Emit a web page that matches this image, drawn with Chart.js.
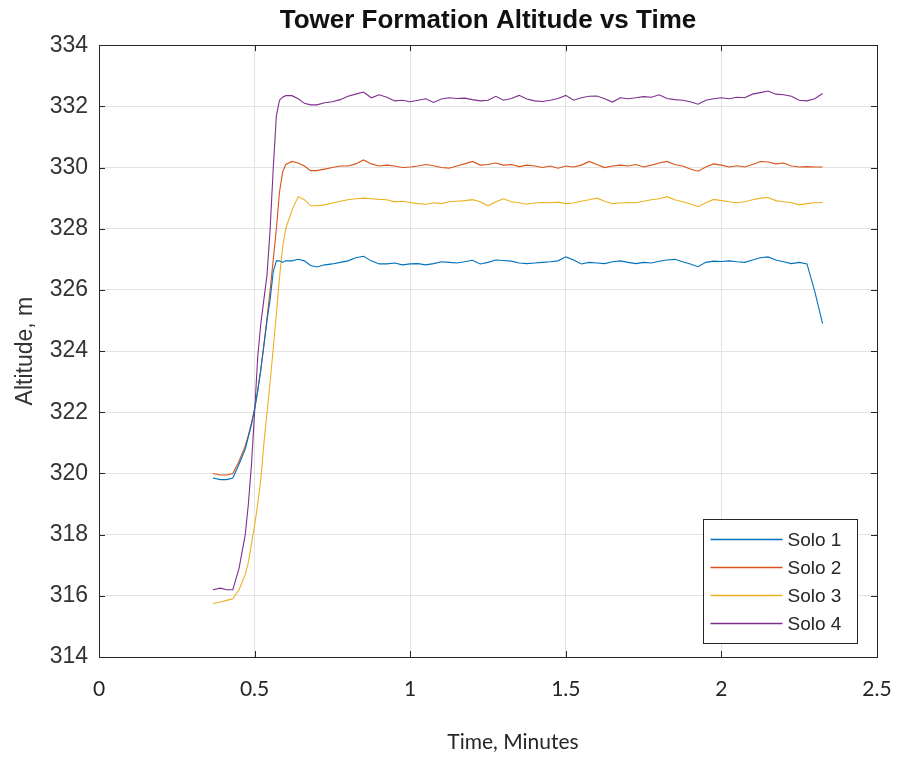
<!DOCTYPE html>
<html>
<head>
<meta charset="utf-8">
<title>Tower Formation Altitude vs Time</title>
<script src="https://cdn.jsdelivr.net/npm/chart.js@4.4.0/dist/chart.umd.min.js"></script>
<style>
  html, body { margin: 0; padding: 0; background: #fff; }
</style>
</head>
<body>
<canvas id="myChart" width="904" height="757"></canvas>
<script>
'use strict';

// time axis (minutes), shared by all four drones
const time = [
  0.366, 0.39, 0.41, 0.43, 0.45, 0.47, 0.48, 0.49, 0.50, 0.51, 0.52, 0.53,
  0.54, 0.55, 0.56, 0.57, 0.58, 0.59, 0.60, 0.62, 0.64, 0.66, 0.68, 0.70,
  0.725, 0.75, 0.775, 0.8, 0.825, 0.85, 0.875, 0.9, 0.925, 0.95,
  0.975, 1.0, 1.025, 1.05, 1.075, 1.1, 1.125, 1.15, 1.175, 1.2,
  1.225, 1.25, 1.275, 1.3, 1.325, 1.35, 1.375, 1.4, 1.425, 1.45,
  1.475, 1.5, 1.525, 1.55, 1.575, 1.6, 1.625, 1.65, 1.675, 1.7,
  1.725, 1.75, 1.775, 1.8, 1.825, 1.85, 1.875, 1.9, 1.925, 1.95,
  1.975, 2.0, 2.025, 2.05, 2.075, 2.1, 2.125, 2.15, 2.175, 2.2,
  2.225, 2.25, 2.275, 2.3, 2.325
];

const solo1 = [
  319.85, 319.8, 319.8, 319.85, 320.3, 320.8, 321.2, 321.6, 322.1, 322.7, 323.4, 324.2,
  325.0, 325.7, 326.6, 326.95, 326.95, 326.9, 326.95, 326.95, 327.0, 326.95, 326.8, 326.75,
  326.82, 326.85, 326.9, 326.95, 327.05, 327.1, 326.95, 326.85, 326.85, 326.88,
  326.82, 326.85, 326.86, 326.82, 326.86, 326.92, 326.9, 326.88, 326.92, 326.97,
  326.85, 326.9, 326.98, 326.96, 326.94, 326.88, 326.86, 326.88, 326.9, 326.92,
  326.95, 327.08, 326.98, 326.85, 326.9, 326.88, 326.86, 326.92, 326.95, 326.9,
  326.86, 326.9, 326.88, 326.94, 326.98, 327.0, 326.92, 326.85, 326.76, 326.9,
  326.94, 326.93, 326.95, 326.92, 326.9, 326.98, 327.05, 327.08, 326.98, 326.92,
  326.86, 326.9, 326.85, 325.95, 324.9
];

const solo2 = [
  320.0, 319.95, 319.95, 320.0, 320.4, 320.9, 321.25, 321.65, 322.1, 322.7, 323.4, 324.2,
  325.1, 326.0, 327.0, 328.0, 329.2, 329.85, 330.1, 330.2, 330.15, 330.05, 329.9, 329.9,
  329.95, 330.0, 330.05, 330.05, 330.12, 330.25, 330.12, 330.05, 330.08, 330.05,
  330.0, 330.02, 330.05, 330.1, 330.06, 330.0, 329.98, 330.05, 330.12, 330.2,
  330.08, 330.1, 330.15, 330.08, 330.1, 330.03, 330.08, 330.05, 330.0, 330.05,
  329.98, 330.05, 330.02, 330.08, 330.2, 330.1, 330.0, 330.05, 330.08, 330.05,
  330.1, 330.02, 330.08, 330.15, 330.2, 330.1, 330.05, 329.95, 329.88, 330.02,
  330.12, 330.08, 330.02, 330.06, 330.02, 330.1, 330.2, 330.18, 330.12, 330.15,
  330.05, 330.02, 330.03, 330.02, 330.02
];

const solo3 = [
  315.75, 315.8, 315.85, 315.9, 316.2, 316.7, 317.1, 317.7, 318.3, 319.0, 319.8, 321.0,
  322.0, 323.0, 324.1, 325.2, 326.4, 327.4, 328.0, 328.6, 329.05, 328.95, 328.75, 328.75,
  328.78, 328.84, 328.9, 328.95, 328.98, 329.0, 328.98, 328.96, 328.95, 328.88,
  328.9, 328.86, 328.82, 328.8, 328.85, 328.82, 328.88, 328.9, 328.92, 328.95,
  328.88, 328.75, 328.88, 328.98, 328.88, 328.85, 328.8, 328.84, 328.86, 328.85,
  328.87, 328.82, 328.84, 328.9, 328.95, 329.0, 328.9, 328.82, 328.84, 328.86,
  328.85, 328.9, 328.95, 328.98, 329.05, 328.95, 328.88, 328.82, 328.72, 328.85,
  328.96, 328.92, 328.88, 328.85, 328.88, 328.95, 329.0, 329.02, 328.92, 328.88,
  328.86, 328.78, 328.82, 328.85, 328.86
];

const solo4 = [
  316.2, 316.25, 316.2, 316.2, 316.9, 318.0, 319.0, 320.3, 322.0, 323.8, 324.9, 325.7,
  326.5, 328.0, 330.0, 331.7, 332.2, 332.3, 332.35, 332.35, 332.25, 332.1, 332.05, 332.05,
  332.12, 332.15, 332.22, 332.33, 332.4, 332.47, 332.28, 332.38, 332.3, 332.18,
  332.2, 332.15, 332.2, 332.25, 332.13, 332.24, 332.28, 332.26, 332.27, 332.22,
  332.18, 332.2, 332.33, 332.2, 332.26, 332.36, 332.24, 332.18, 332.16, 332.2,
  332.26, 332.36, 332.2, 332.28, 332.33, 332.34, 332.25, 332.14, 332.28, 332.25,
  332.28, 332.32, 332.3, 332.38, 332.26, 332.22, 332.2, 332.15, 332.07, 332.2,
  332.25, 332.28, 332.25, 332.3, 332.28, 332.4, 332.45, 332.5, 332.4, 332.38,
  332.33, 332.2, 332.18, 332.25, 332.42
];

const seriesNames = ['Solo 1', 'Solo 2', 'Solo 3', 'Solo 4'];
const seriesColors = ['#0072BD', '#D95319', '#EDB120', '#7E2F8E'];
const xTicks = [0, 0.5, 1, 1.5, 2, 2.5];
const yTicks = [314, 316, 318, 320, 322, 324, 326, 328, 330, 332, 334];

const ink = '#262626';

const toPoints = (vals) => vals.map((v, i) => ({ x: time[i], y: v }));

// MATLAB style box, inward ticks, legend and x label
const matlabFrame = {
  id: 'matlabFrame',
  afterDraw(chart) {
    const { ctx, chartArea: a, scales: { x, y } } = chart;
    ctx.save();
    ctx.strokeStyle = ink;
    ctx.lineWidth = 1;
    ctx.beginPath();
    xTicks.forEach(v => {
      const px = Math.round(x.getPixelForValue(v)) + 0.5;
      ctx.moveTo(px, a.bottom); ctx.lineTo(px, a.bottom - 6);
      ctx.moveTo(px, a.top); ctx.lineTo(px, a.top + 6);
    });
    yTicks.forEach(v => {
      const py = Math.round(y.getPixelForValue(v)) + 0.5;
      ctx.moveTo(a.left, py); ctx.lineTo(a.left + 6, py);
      ctx.moveTo(a.right, py); ctx.lineTo(a.right - 6, py);
    });
    ctx.stroke();
    ctx.strokeRect(Math.round(a.left) + 0.5, Math.round(a.top) + 0.5,
      Math.round(a.right - a.left), Math.round(a.bottom - a.top));

    // legend box, lower right inside the axes
    const bw = 154, bh = 124;
    const bx = Math.round(a.right - 20 - bw) + 0.5;
    const by = Math.round(a.bottom - 14 - bh) + 0.5;
    ctx.fillStyle = '#fff';
    ctx.fillRect(bx, by, bw, bh);
    ctx.strokeStyle = ink;
    ctx.strokeRect(bx, by, bw, bh);
    ctx.font = '19px "Liberation Sans", Arial, sans-serif';
    ctx.textBaseline = 'middle';
    ctx.textAlign = 'left';
    chart.data.datasets.forEach((ds, i) => {
      const ly = by + 20 + i * 28;
      ctx.strokeStyle = ds.borderColor;
      ctx.lineWidth = 1.5;
      ctx.beginPath();
      ctx.moveTo(bx + 7, ly); ctx.lineTo(bx + 79, ly);
      ctx.stroke();
      ctx.fillStyle = ink;
      ctx.fillText(ds.label, bx + 84, ly + 1);
    });

    // x axis label (sits right of centre in the original)
    ctx.font = '21px Lato, "Open Sans", sans-serif';
    ctx.textAlign = 'center';
    ctx.fillStyle = ink;
    ctx.fillText('Time, Minutes', 513, 742);
    ctx.restore();
  }
};

const ctx = document.getElementById('myChart').getContext('2d');

new Chart(ctx, {
  type: 'line',
  data: {
    datasets: [solo1, solo2, solo3, solo4].map((vals, i) => ({
      label: seriesNames[i],
      data: toPoints(vals),
      borderColor: seriesColors[i],
      backgroundColor: seriesColors[i],
      borderWidth: 1.1,
      pointRadius: 0,
      tension: 0,
      fill: false
    }))
  },
  options: {
    responsive: false,
    animation: false,
    layout: { padding: { left: 0, right: 27, top: 0, bottom: 0 } },
    plugins: {
      legend: { display: false },
      tooltip: { enabled: false },
      title: {
        display: true,
        text: 'Tower Formation Altitude vs Time',
        fullSize: false,
        color: '#111',
        font: { family: '"Liberation Sans", Arial, sans-serif', size: 26, weight: 'bold' },
        padding: { top: 5, bottom: 9 }
      }
    },
    scales: {
      x: {
        type: 'linear',
        min: 0,
        max: 2.5,
        afterFit: (s) => { s.height = 100; s.paddingLeft = 0; s.paddingRight = 0; },
        afterBuildTicks: (s) => { s.ticks = xTicks.map(v => ({ value: v })); },
        border: { display: false },
        grid: { color: '#e3e3e3', drawTicks: false },
        ticks: {
          color: ink,
          padding: 20,
          font: { family: 'Lato, "Open Sans", sans-serif', size: 21 },
          callback: (v) => String(v)
        }
      },
      y: {
        min: 314,
        max: 334,
        afterFit: (s) => { s.width = 99; },
        afterBuildTicks: (s) => { s.ticks = yTicks.map(v => ({ value: v })); },
        border: { display: false },
        grid: { color: '#e3e3e3', drawTicks: false },
        ticks: {
          color: '#333',
          padding: 11,
          font: { family: '"Liberation Sans", Arial, sans-serif', size: 23 }
        },
        title: {
          display: true,
          text: 'Altitude, m',
          color: '#333',
          padding: { top: 12, bottom: 0 },
          font: { family: '"Liberation Sans", Arial, sans-serif', size: 23 }
        }
      }
    }
  },
  plugins: [matlabFrame]
});
</script>
</body>
</html>
